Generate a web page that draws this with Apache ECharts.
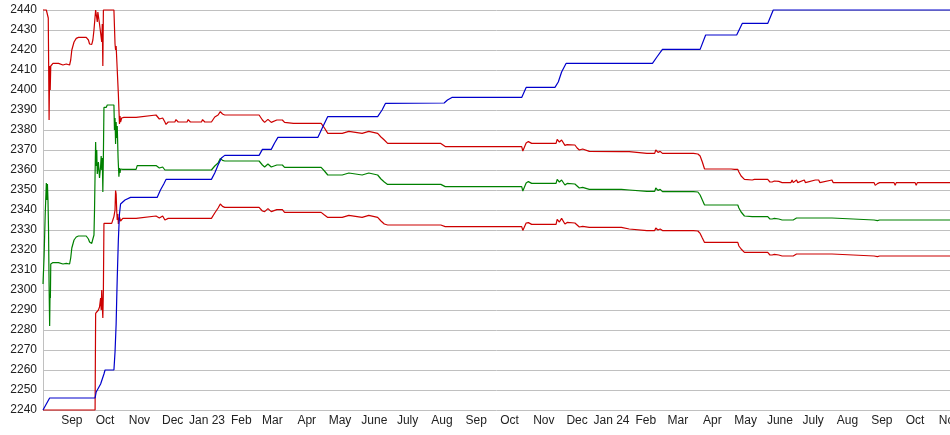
<!DOCTYPE html>
<html>
<head>
<meta charset="utf-8">
<script src="https://cdn.jsdelivr.net/npm/echarts@6/dist/echarts.min.js"></script>
<style>
html,body{margin:0;padding:0;background:#fff;}
#chart{width:950px;height:435px;}
</style>
</head>
<body>
<div id="chart"></div>
<script>
const monthNames = ['Jan','Feb','Mar','Apr','May','June','July','Aug','Sep','Oct','Nov','Dec'];
const xMin = '2022-08-06';
const xMax = '2024-11-01 12:00';
const yMin = 2240, yMax = 2440, yStep = 10;

const blueLine = [
['2022-08-06', 2240],['2022-08-12', 2246],['2022-09-22', 2246],['2022-09-23', 2249],['2022-09-27', 2253],
['2022-09-30', 2258],['2022-10-01', 2260],['2022-10-09', 2260],['2022-10-10', 2269],['2022-10-11', 2283],
['2022-10-11 12:00', 2295],['2022-10-12', 2306],['2022-10-13', 2325],['2022-10-14', 2338],['2022-10-15', 2343],
['2022-10-19', 2345],['2022-10-24', 2346.3],['2022-11-17', 2346.3],['2022-11-20', 2350],['2022-11-23', 2353],
['2022-11-25', 2355.3],['2023-01-05', 2355.3],['2023-01-08', 2358.5],['2023-01-11', 2362.5],['2023-01-14', 2366],
['2023-01-17', 2367.3],['2023-02-17', 2367.3],['2023-02-20', 2370.3],['2023-02-28', 2370.3],['2023-03-03', 2373.5],
['2023-03-06', 2376.3],['2023-04-11', 2376.3],['2023-04-15', 2381],['2023-04-20', 2386.7],['2023-06-04', 2386.7],
['2023-06-08', 2390],['2023-06-11', 2393.3],['2023-08-03', 2393.5],['2023-08-06', 2395],['2023-08-10', 2396.3],
['2023-10-12', 2396.3],['2023-10-16', 2401.3],['2023-11-11', 2401.3],['2023-11-14', 2404],['2023-11-17', 2409],
['2023-11-21', 2413.3],['2024-02-07', 2413.3],['2024-02-11', 2416.5],['2024-02-16', 2420.3],['2024-03-21', 2420.3],
['2024-03-26', 2427.5],['2024-04-23', 2427.5],['2024-04-28', 2433.3],['2024-05-21', 2433.3],['2024-05-26', 2440],
['2024-11-01 12:00', 2440]
];

const upperRed = [
['2022-08-06', 2440],['2022-08-09', 2440],['2022-08-10 18:00', 2436],['2022-08-11 12:00', 2385],['2022-08-12', 2412],
['2022-08-12 12:00', 2400],['2022-08-13', 2412],['2022-08-15', 2413.3],['2022-08-20', 2413.3],['2022-08-21', 2412.5],
['2022-08-24', 2412.5],['2022-08-25', 2413.3],['2022-08-27', 2413],['2022-08-28', 2412.5],['2022-08-30', 2412.5],
['2022-08-31', 2415],['2022-09-01', 2420],['2022-09-03', 2424],['2022-09-05', 2425.8],['2022-09-07', 2426.3],
['2022-09-14', 2426.3],['2022-09-16', 2425],['2022-09-17', 2423],['2022-09-19', 2422.8],['2022-09-20', 2425],
['2022-09-21', 2430],['2022-09-22 12:00', 2440],['2022-09-23 12:00', 2440],['2022-09-24', 2434],['2022-09-24 12:00', 2439],
['2022-09-26', 2433],['2022-09-27', 2434],['2022-09-28', 2424],['2022-09-28 12:00', 2433],['2022-09-29', 2412],
['2022-09-29 12:00', 2440],['2022-10-09', 2440],['2022-10-10', 2423],['2022-10-10 12:00', 2420],['2022-10-11', 2422],
['2022-10-12', 2410],['2022-10-13', 2398],['2022-10-14', 2383],['2022-10-14 12:00', 2387],['2022-10-15', 2384],
['2022-10-16', 2386],['2022-10-17', 2385],['2022-10-18', 2386.3],['2022-10-29', 2386.3],['2022-10-30', 2387.2],
['2022-11-16', 2387.5],['2022-11-19', 2385.5],['2022-11-22', 2386],['2022-11-24', 2384],['2022-11-25', 2382.8],
['2022-11-27', 2384],['2022-12-03', 2384],['2022-12-04', 2385.2],['2022-12-06', 2384],['2022-12-14', 2384],
['2022-12-15', 2385.2],['2022-12-17', 2384],['2022-12-27', 2384],['2022-12-28', 2385.2],['2022-12-30', 2384],
['2023-01-05', 2384],['2023-01-08', 2386.5],['2023-01-11', 2387.5],['2023-01-13', 2389.2],['2023-01-15', 2388],
['2023-01-17', 2387.5],['2023-02-03', 2387.5],['2023-02-04', 2386.5],['2023-02-05', 2387.5],['2023-02-17', 2387.5],
['2023-02-20', 2385],['2023-02-22', 2383.8],['2023-02-25', 2385.3],['2023-02-28', 2383.8],['2023-03-05', 2385],
['2023-03-10', 2385],['2023-03-12', 2383.8],['2023-03-20', 2383.3],['2023-04-14', 2383.3],['2023-04-17', 2381],
['2023-04-20', 2378.3],['2023-05-03', 2378.3],['2023-05-04', 2379.3],['2023-05-09', 2379.3],['2023-05-10', 2378.3],
['2023-05-21', 2378.3],['2023-05-22', 2379.3],['2023-05-27', 2379.3],['2023-05-28', 2378.3],['2023-06-04', 2378.3],
['2023-06-07', 2376.5],['2023-06-10', 2375],['2023-06-13', 2373.3],['2023-07-31', 2373.3],['2023-08-04', 2371.7],
['2023-08-21', 2371.7],['2023-08-22', 2372.7],['2023-08-25', 2371.7],['2023-09-04', 2371.7],['2023-09-05', 2372.7],
['2023-09-07', 2371.7],['2023-09-19', 2371.7],['2023-09-20', 2372.7],['2023-09-22', 2371.7],['2023-10-12', 2371.7],
['2023-10-13', 2369.5],['2023-10-16', 2373.5],['2023-10-18', 2374.2],['2023-10-21', 2373.3],['2023-11-12', 2373.3],
['2023-11-13', 2375.3],['2023-11-15', 2374],['2023-11-17', 2375],['2023-11-20', 2372.3],['2023-11-22', 2372.7],
['2023-11-29', 2372.5],['2023-12-01', 2371],['2023-12-03', 2370],['2023-12-06', 2370.5],['2023-12-12', 2369.3],
['2024-01-10', 2369.2],['2024-01-11', 2368.5],['2024-01-17', 2369.2],['2024-01-18', 2368.3],['2024-02-02', 2368.3],
['2024-02-03', 2367.5],['2024-02-04', 2368.3],['2024-02-09', 2368.3],['2024-02-10', 2370],['2024-02-12', 2368.8],
['2024-02-14', 2369.3],['2024-02-16', 2368.3],['2024-02-22', 2368.3],['2024-02-23', 2367.5],['2024-02-25', 2368.3],
['2024-03-03', 2368.3],['2024-03-04', 2367.5],['2024-03-06', 2368.3],['2024-03-15', 2368.3],['2024-03-16', 2367.8],
['2024-03-19', 2368],['2024-03-21', 2367],['2024-03-23', 2364],['2024-03-25', 2360.5],['2024-04-18', 2360.5],
['2024-04-19', 2359.7],['2024-04-21', 2360.3],['2024-04-24', 2360.3],['2024-04-25', 2359],['2024-04-27', 2357],
['2024-04-30', 2355.3],['2024-05-07', 2355],['2024-05-08', 2354],['2024-05-09', 2355.3],['2024-05-21', 2355.3],
['2024-05-23', 2354],['2024-05-24', 2354.8],['2024-05-25', 2354],['2024-05-27', 2354.5],['2024-05-31', 2354.3],
['2024-06-03', 2353.7],['2024-06-11', 2353.7],['2024-06-12', 2355],['2024-06-13', 2353.7],['2024-06-16', 2355],
['2024-06-17', 2353.7],['2024-06-23', 2355],['2024-06-24', 2353.7],['2024-07-03', 2355],['2024-07-06', 2355],
['2024-07-07', 2353.7],['2024-07-18', 2355],['2024-07-19', 2353.7],['2024-08-25', 2353.7],['2024-08-26', 2352.3],
['2024-08-28', 2353.2],['2024-08-29', 2352.3],['2024-08-30', 2353.7],['2024-09-12', 2353.7],['2024-09-13', 2352.3],
['2024-09-14', 2353.7],['2024-09-21', 2353.7],['2024-09-22', 2352.8],['2024-09-23', 2353.7],['2024-10-01', 2353.7],
['2024-10-02', 2352.3],['2024-10-03', 2353.7],['2024-11-01 12:00', 2353.7]
];

const midGreen = [
['2022-08-06', 2303],['2022-08-07', 2317],['2022-08-08', 2338],['2022-08-09', 2353.5],['2022-08-09 12:00', 2345],
['2022-08-10', 2353],['2022-08-10 12:00', 2345],['2022-08-11', 2330],['2022-08-11 12:00', 2302],['2022-08-12', 2282],
['2022-08-12 08:00', 2298],['2022-08-12 16:00', 2296],['2022-08-13', 2313],['2022-08-15', 2313.7],['2022-08-20', 2313.7],
['2022-08-21', 2313],['2022-08-24', 2313],['2022-08-25', 2313.7],['2022-08-27', 2313.3],['2022-08-28', 2312.8],
['2022-08-30', 2313],['2022-08-31', 2316],['2022-09-01', 2321],['2022-09-03', 2325],['2022-09-05', 2326.5],
['2022-09-07', 2327],['2022-09-14', 2327],['2022-09-16', 2325.5],['2022-09-17', 2324],['2022-09-19', 2323.3],
['2022-09-20', 2325.5],['2022-09-21', 2327.5],['2022-09-21 12:00', 2340],['2022-09-22', 2358],['2022-09-22 12:00', 2374],
['2022-09-23', 2362],['2022-09-23 12:00', 2370],['2022-09-24', 2358],['2022-09-25', 2364],['2022-09-26', 2356],
['2022-09-27', 2362],['2022-09-27 12:00', 2367],['2022-09-28', 2360],['2022-09-28 12:00', 2366],['2022-09-29', 2349],
['2022-09-29 12:00', 2367],['2022-09-30', 2391.3],['2022-10-02', 2391.3],['2022-10-03', 2392.5],['2022-10-09', 2392.5],
['2022-10-09 12:00', 2380],['2022-10-10', 2386],['2022-10-10 12:00', 2373],['2022-10-11', 2384],['2022-10-11 12:00', 2376],
['2022-10-12', 2382],['2022-10-12 18:00', 2366],['2022-10-13 12:00', 2356.7],['2022-10-14', 2361],['2022-10-14 12:00', 2358.5],
['2022-10-15', 2360.5],['2022-10-16', 2359.5],['2022-10-17', 2360.3],['2022-10-29', 2360.3],['2022-10-30', 2362.2],
['2022-11-16', 2362.2],['2022-11-19', 2361],['2022-11-22', 2361.5],['2022-11-24', 2360],['2022-11-25', 2359],
['2022-11-27', 2360],['2022-12-03', 2360],['2022-12-04', 2361],['2022-12-06', 2360],['2022-12-14', 2360],
['2022-12-15', 2361],['2022-12-17', 2360],['2022-12-27', 2360],['2022-12-28', 2361],['2022-12-30', 2360],
['2023-01-05', 2360],['2023-01-08', 2362],['2023-01-11', 2363.5],['2023-01-13', 2365.8],['2023-01-15', 2364.8],
['2023-01-17', 2364.5],['2023-02-03', 2364.5],['2023-02-04', 2363.5],['2023-02-05', 2364.5],['2023-02-17', 2364.5],
['2023-02-20', 2362.5],['2023-02-22', 2361.5],['2023-02-25', 2363],['2023-02-28', 2361.5],['2023-03-05', 2362.5],
['2023-03-10', 2362.5],['2023-03-12', 2361.3],['2023-04-14', 2361.3],['2023-04-17', 2359.5],['2023-04-20', 2357.5],
['2023-05-03', 2357.5],['2023-05-04', 2358.5],['2023-05-09', 2358.5],['2023-05-10', 2357.5],['2023-05-21', 2357.5],
['2023-05-22', 2358.5],['2023-05-27', 2358.5],['2023-05-28', 2357.5],['2023-06-04', 2357.5],['2023-06-07', 2355.5],
['2023-06-10', 2354],['2023-06-13', 2352.8],['2023-07-31', 2352.8],['2023-08-04', 2351.7],['2023-08-21', 2351.7],
['2023-08-22', 2352.7],['2023-08-25', 2351.7],['2023-09-04', 2351.7],['2023-09-05', 2352.7],['2023-09-07', 2351.7],
['2023-09-19', 2351.7],['2023-09-20', 2352.7],['2023-09-22', 2351.7],['2023-10-12', 2351.7],['2023-10-13', 2349.5],
['2023-10-16', 2353.5],['2023-10-18', 2354.2],['2023-10-21', 2353.3],['2023-11-12', 2353.3],['2023-11-13', 2355.3],
['2023-11-15', 2354],['2023-11-17', 2355],['2023-11-20', 2352.5],['2023-11-22', 2353.3],['2023-11-29', 2353],
['2023-12-01', 2352],['2023-12-03', 2351],['2023-12-06', 2351.3],['2023-12-12', 2350.3],['2024-01-10', 2350.3],
['2024-01-11', 2349.5],['2024-01-17', 2350],['2024-01-18', 2349.3],['2024-02-02', 2349.3],['2024-02-03', 2348.5],
['2024-02-04', 2349.3],['2024-02-09', 2349.3],['2024-02-10', 2351],['2024-02-12', 2349.8],['2024-02-14', 2350.3],
['2024-02-16', 2349.2],['2024-02-22', 2349.2],['2024-02-23', 2348.5],['2024-02-25', 2349.2],['2024-03-03', 2349.2],
['2024-03-04', 2348.5],['2024-03-06', 2349.2],['2024-03-15', 2349.2],['2024-03-16', 2348.7],['2024-03-19', 2349],
['2024-03-21', 2347.5],['2024-03-23', 2345],['2024-03-25', 2342.5],['2024-04-18', 2342.5],['2024-04-19', 2341.8],
['2024-04-21', 2342.5],['2024-04-24', 2342.5],['2024-04-25', 2341],['2024-04-27', 2339],['2024-04-30', 2337],
['2024-05-07', 2336.7],['2024-05-08', 2335.8],['2024-05-09', 2336.7],['2024-05-21', 2336.7],['2024-05-23', 2335.5],
['2024-05-24', 2336.2],['2024-05-25', 2335.5],['2024-05-27', 2335.8],['2024-05-31', 2335.5],['2024-06-03', 2335],
['2024-06-11', 2335],['2024-06-12', 2336],['2024-06-13', 2335],['2024-06-16', 2336],['2024-06-17', 2335],
['2024-06-23', 2336],['2024-06-24', 2335],['2024-07-03', 2336],['2024-07-06', 2336],['2024-07-07', 2335],
['2024-07-18', 2336],['2024-07-19', 2335],['2024-08-25', 2335],['2024-08-26', 2334],['2024-08-28', 2334.7],
['2024-08-29', 2334],['2024-08-30', 2335],['2024-09-12', 2335],['2024-09-13', 2334],['2024-09-14', 2335],
['2024-09-21', 2335],['2024-09-22', 2334.3],['2024-09-23', 2335],['2024-10-01', 2335],['2024-10-02', 2334],
['2024-10-03', 2335],['2024-11-01 12:00', 2335]
];

const lowerRed = [
['2022-08-06', 2240],['2022-09-22', 2240],['2022-09-22 12:00', 2288.3],['2022-09-23', 2289],['2022-09-25', 2290],
['2022-09-26', 2291.5],['2022-09-27', 2296],['2022-09-27 12:00', 2290],['2022-09-28', 2300],['2022-09-28 12:00', 2292],
['2022-09-29', 2286],['2022-09-29 12:00', 2300],['2022-09-30', 2333.3],['2022-10-07', 2333.3],['2022-10-08', 2335],
['2022-10-09', 2336.7],['2022-10-10', 2340],['2022-10-10 12:00', 2349.7],['2022-10-11', 2348],['2022-10-11 12:00', 2340],
['2022-10-12', 2335],['2022-10-12 12:00', 2338],['2022-10-13', 2333],['2022-10-14', 2336.5],['2022-10-15', 2334.5],
['2022-10-16', 2335.5],['2022-10-17', 2335.8],['2022-10-29', 2335.8],['2022-10-30', 2336.7],['2022-11-16', 2337],
['2022-11-19', 2336],['2022-11-22', 2337],['2022-11-24', 2335],['2022-11-25', 2334.5],['2022-11-27', 2335.8],
['2022-12-03', 2335.8],['2022-12-04', 2336.8],['2022-12-06', 2335.8],['2022-12-14', 2335.8],['2022-12-15', 2336.8],
['2022-12-17', 2335.8],['2022-12-27', 2335.8],['2022-12-28', 2336.8],['2022-12-30', 2335.8],['2023-01-05', 2335.8],
['2023-01-08', 2338.5],['2023-01-11', 2341],['2023-01-13', 2343],['2023-01-15', 2341.8],['2023-01-17', 2341.3],
['2023-02-03', 2341.3],['2023-02-04', 2340.5],['2023-02-05', 2341.3],['2023-02-17', 2341.3],['2023-02-20', 2339.5],
['2023-02-22', 2339.2],['2023-02-25', 2340.7],['2023-02-28', 2339.2],['2023-03-05', 2340.2],['2023-03-10', 2340.2],
['2023-03-12', 2338.8],['2023-04-14', 2338.8],['2023-04-17', 2337.5],['2023-04-20', 2336.3],['2023-05-03', 2336.3],
['2023-05-04', 2337.3],['2023-05-09', 2337.3],['2023-05-10', 2336.3],['2023-05-21', 2336.3],['2023-05-22', 2337.3],
['2023-05-27', 2337.3],['2023-05-28', 2336.3],['2023-06-04', 2336.3],['2023-06-07', 2334.5],['2023-06-10', 2333],
['2023-06-13', 2332.5],['2023-07-31', 2332.5],['2023-08-04', 2331.7],['2023-08-21', 2331.7],['2023-08-22', 2332.7],
['2023-08-25', 2331.7],['2023-09-04', 2331.7],['2023-09-05', 2332.7],['2023-09-07', 2331.7],['2023-09-19', 2331.7],
['2023-09-20', 2332.7],['2023-09-22', 2331.7],['2023-10-12', 2331.7],['2023-10-13', 2329.8],['2023-10-16', 2333.5],
['2023-10-18', 2333.7],['2023-10-21', 2332.8],['2023-11-12', 2332.8],['2023-11-13', 2335.3],['2023-11-15', 2334],
['2023-11-17', 2335.8],['2023-11-20', 2333],['2023-11-22', 2333.8],['2023-11-29', 2333.5],['2023-12-01', 2332.5],
['2023-12-03', 2331.5],['2023-12-06', 2331.8],['2023-12-12', 2331.3],['2024-01-10', 2331.3],['2024-01-11', 2330.3],
['2024-01-17', 2330.5],['2024-01-18', 2329.7],['2024-02-02', 2329.7],['2024-02-03', 2329],['2024-02-04', 2329.7],
['2024-02-09', 2329.7],['2024-02-10', 2331],['2024-02-12', 2330],['2024-02-14', 2330.5],['2024-02-16', 2329.7],
['2024-02-22', 2329.7],['2024-02-23', 2329],['2024-02-25', 2329.7],['2024-03-03', 2329.7],['2024-03-04', 2329],
['2024-03-06', 2329.7],['2024-03-15', 2329.7],['2024-03-16', 2329.2],['2024-03-19', 2329.5],['2024-03-21', 2328.3],
['2024-03-23', 2326],['2024-03-25', 2323.8],['2024-04-18', 2323.8],['2024-04-19', 2323],['2024-04-21', 2323.8],
['2024-04-24', 2323.8],['2024-04-25', 2322],['2024-04-27', 2320.5],['2024-04-30', 2318.8],['2024-05-07', 2318.8],
['2024-05-08', 2318],['2024-05-09', 2318.8],['2024-05-21', 2318.8],['2024-05-23', 2317.5],['2024-05-24', 2318.2],
['2024-05-25', 2317.5],['2024-05-27', 2317.8],['2024-05-31', 2317.5],['2024-06-03', 2317],['2024-06-11', 2317],
['2024-06-12', 2318],['2024-06-13', 2317],['2024-06-16', 2318],['2024-06-17', 2317],['2024-06-23', 2318],
['2024-06-24', 2317],['2024-07-03', 2318],['2024-07-06', 2318],['2024-07-07', 2317],['2024-07-18', 2318],
['2024-07-19', 2317],['2024-08-25', 2317],['2024-08-26', 2316],['2024-08-28', 2316.7],['2024-08-29', 2316],
['2024-08-30', 2317],['2024-09-12', 2317],['2024-09-13', 2316],['2024-09-14', 2317],['2024-09-21', 2317],
['2024-09-22', 2316.3],['2024-09-23', 2317],['2024-10-01', 2317],['2024-10-02', 2316],['2024-10-03', 2317],
['2024-11-01 12:00', 2317]
];

const chart = echarts.init(document.getElementById('chart'), null, {renderer: 'canvas'});
const DAY = 86400000;
function lineSeries(name, data, color) {
  return {
    name: name, type: 'line', data: data, showSymbol: false, symbol: 'none',
    clip: false, smooth: false, animation: false,
    lineStyle: {color: color, width: 1.2}, itemStyle: {color: color}
  };
}
chart.setOption({
  animation: false,
  backgroundColor: '#ffffff',
  grid: {left: 43, right: 0, top: 10, bottom: 25, containLabel: false, outerBoundsMode: 'none'},
  xAxis: {
    type: 'time',
    min: xMin, max: xMax,
    minInterval: 28 * DAY, maxInterval: 31 * DAY,
    axisLine: {show: false},
    axisTick: {show: false},
    splitLine: {show: false},
    axisLabel: {
      margin: 5,
      color: '#222',
      fontFamily: 'Liberation Sans, Arial, sans-serif',
      fontSize: 12,
      hideOverlap: false,
      alignMaxLabel: 'center',
      alignMinLabel: 'center',
      formatter: function (val) {
        const d = new Date(val);
        const m = d.getMonth();
        if (m === 0) return 'Jan ' + String(d.getFullYear()).slice(2);
        return monthNames[m];
      }
    }
  },
  yAxis: {
    type: 'value',
    min: yMin, max: yMax, interval: yStep,
    axisLine: {show: true, lineStyle: {color: '#c0c0c0', width: 1}},
    axisTick: {show: false},
    splitLine: {show: true, lineStyle: {color: '#c0c0c0', width: 1}},
    axisLabel: {
      margin: 6,
      color: '#222',
      fontFamily: 'Liberation Sans, Arial, sans-serif',
      fontSize: 12,
      formatter: function (v) { return String(v); }
    }
  },
  series: [
    lineSeries('upper', upperRed, '#cc0000'),
    lineSeries('middle', midGreen, '#008000'),
    lineSeries('lower', lowerRed, '#cc0000'),
    lineSeries('level', blueLine, '#0000cc')
  ]
});
</script>
</body>
</html>
